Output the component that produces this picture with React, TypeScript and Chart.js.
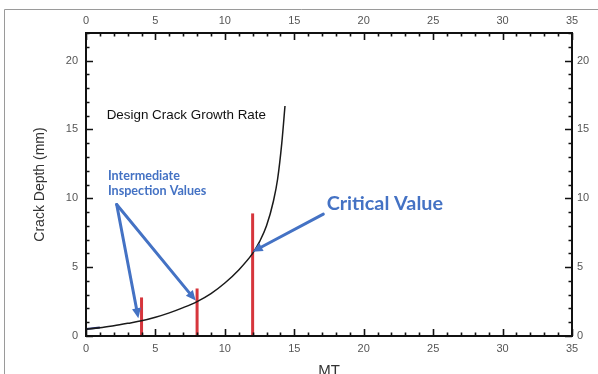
import React, { useEffect, useRef } from "react";
import { Chart, registerables } from "chart.js";

Chart.register(...registerables);

// ---- data ----
const curveX = [0, 1, 2, 3, 4, 5, 6, 7, 8, 9, 10, 11, 12, 12.5, 13, 13.5, 13.8, 14.1, 14.33];
const curveY = [0.5, 0.6, 0.75, 0.92, 1.1, 1.36, 1.68, 2.06, 2.5, 3.08, 3.85, 4.8, 6.0, 6.85, 8.0, 9.8, 11.4, 14.0, 16.7];
const stubX = [0, 1];
const stubY = [0.5, 0.62];
const inspectionX = [4, 8, 12];
const inspectionTop = [2.8, 3.45, 8.9];
const arrowFromX = [2.21, 2.21, 17.09];
const arrowFromY = [9.55, 9.55, 8.85];
const arrowToX = [3.77, 7.9, 12.0];
const arrowToY = [1.29, 2.57, 6.12];
const xTickLabels = [0, 5, 10, 15, 20, 25, 30, 35];
const yTickLabels = [0, 5, 10, 15, 20];
const X_MIN = 0, X_MAX = 35, Y_MIN = 0, Y_MAX = 22;
const curveLabel = "Design Crack Growth Rate";
const interLabel = ["Intermediate", "Inspection Values"];
const interLabelX = 1.58;
const interLabelY = [11.62, 10.53];
const criticalLabel = "Critical Value";
const criticalLabelPos = [17.33, 9.58];
const curveLabelPos = [1.49, 16.0];

const BLUE = "#4472c4";
const RED = "#d6353c";

const W = 598, H = 390;

const fixSize = (size: number) => (scale: any) => {
  if (scale.isHorizontal()) scale.height = size;
  else scale.width = size;
};
const fixTicks = (vals: number[]) => (scale: any) => {
  scale.ticks = vals.map((v) => ({ value: v }));
};

const overlayPlugin = {
  id: "overlay",
  afterDraw(chart: any) {
    const { ctx, chartArea } = chart;
    const xs = chart.scales.x;
    const ys = chart.scales.y;
    ctx.save();
    // outer frame of the picture
    ctx.strokeStyle = "#9a9a9a";
    ctx.lineWidth = 1;
    ctx.beginPath();
    ctx.moveTo(4.5, H + 10);
    ctx.lineTo(4.5, 9.5);
    ctx.lineTo(W + 10, 9.5);
    ctx.stroke();

    // plot frame
    const L = chartArea.left, R = chartArea.right, T = chartArea.top, B = chartArea.bottom;
    ctx.strokeStyle = "#111";
    ctx.lineWidth = 2;
    ctx.strokeRect(L, T, R - L, B - T);

    // inward ticks
    ctx.lineWidth = 1.6;
    ctx.beginPath();
    for (let v = X_MIN; v <= X_MAX; v++) {
      const len = v % 5 === 0 ? 7 : 3.5;
      const px = Math.round(xs.getPixelForValue(v)) + 0.5;
      ctx.moveTo(px, B);
      ctx.lineTo(px, B - len);
      ctx.moveTo(px, T);
      ctx.lineTo(px, T + len);
    }
    for (let v = Y_MIN; v <= Y_MAX; v++) {
      const len = v % 5 === 0 ? 7 : 3.5;
      const py = Math.round(ys.getPixelForValue(v)) + 0.5;
      ctx.moveTo(L, py);
      ctx.lineTo(L + len, py);
      ctx.moveTo(R, py);
      ctx.lineTo(R - len, py);
    }
    ctx.stroke();

    // arrows
    ctx.strokeStyle = BLUE;
    ctx.fillStyle = BLUE;
    for (let i = 0; i < arrowFromX.length; i++) {
      const x1 = xs.getPixelForValue(arrowFromX[i]);
      const y1 = ys.getPixelForValue(arrowFromY[i]);
      const x2 = xs.getPixelForValue(arrowToX[i]);
      const y2 = ys.getPixelForValue(arrowToY[i]);
      const ang = Math.atan2(y2 - y1, x2 - x1);
      const hl = 10, hw = 4.5;
      const bx = x2 - hl * Math.cos(ang);
      const by = y2 - hl * Math.sin(ang);
      ctx.lineWidth = 3;
      ctx.lineCap = "round";
      ctx.beginPath();
      ctx.moveTo(x1, y1);
      ctx.lineTo(bx, by);
      ctx.stroke();
      ctx.beginPath();
      ctx.moveTo(x2, y2);
      ctx.lineTo(bx + hw * Math.sin(ang), by - hw * Math.cos(ang));
      ctx.lineTo(bx - hw * Math.sin(ang), by + hw * Math.cos(ang));
      ctx.closePath();
      ctx.fill();
    }

    // texts
    ctx.textAlign = "left";
    ctx.textBaseline = "middle";
    ctx.fillStyle = "#111";
    ctx.font = "13.4px 'Liberation Sans', Arial, sans-serif";
    ctx.fillText(curveLabel, xs.getPixelForValue(curveLabelPos[0]), ys.getPixelForValue(curveLabelPos[1]));

    ctx.fillStyle = BLUE;
    ctx.font = "bold 12.6px Lato, 'Open Sans', sans-serif";
    interLabel.forEach((t, i) => {
      ctx.fillText(t, xs.getPixelForValue(interLabelX), ys.getPixelForValue(interLabelY[i]));
    });
    ctx.font = "bold 19.8px Lato, 'Open Sans', sans-serif";
    ctx.fillText(criticalLabel, xs.getPixelForValue(criticalLabelPos[0]), ys.getPixelForValue(criticalLabelPos[1]));
    ctx.restore();
  },
};

export default function App() {
  const ref = useRef<HTMLCanvasElement | null>(null);
  useEffect(() => {
    if (!ref.current) return;
    const tickFont = { family: "'Liberation Sans', Arial, sans-serif", size: 11 };
    const datasets: any[] = [
      {
        label: "curve",
        data: curveX.map((x, i) => ({ x, y: curveY[i] })),
        borderColor: "#1a1a1a",
        borderWidth: 1.5,
        pointRadius: 0,
        showLine: true,
        cubicInterpolationMode: "monotone",
        fill: false,
      },
      {
        label: "stub",
        data: stubX.map((x, i) => ({ x, y: stubY[i] })),
        borderColor: "#1f2a6b",
        borderWidth: 2,
        pointRadius: 0,
        showLine: true,
      },
      ...inspectionX.map((x, i) => ({
        label: "inspection " + x,
        data: [
          { x, y: 0 },
          { x, y: inspectionTop[i] },
        ],
        borderColor: RED,
        borderWidth: 3,
        pointRadius: 0,
        showLine: true,
      })),
    ];
    const chart = new Chart(ref.current, {
      type: "scatter",
      data: { datasets },
      plugins: [overlayPlugin],
      options: {
        animation: false,
        responsive: false,
        devicePixelRatio: 1,
        layout: { padding: 0 },
        plugins: { legend: { display: false }, tooltip: { enabled: false } },
        scales: {
          x: {
            type: "linear",
            position: "bottom",
            min: X_MIN,
            max: X_MAX,
            grid: { display: false, drawTicks: false },
            border: { display: false },
            ticks: { font: tickFont, color: "#555", padding: 6, maxRotation: 0 },
            afterBuildTicks: fixTicks(xTickLabels),
            afterFit: fixSize(54),
            title: {
              display: true,
              text: "MT",
              color: "#333",
              font: { family: "'Liberation Sans', Arial, sans-serif", size: 15 },
              padding: { top: 0, bottom: 10 },
            },
          },
          x2: {
            type: "linear",
            axis: "x",
            position: "top",
            min: X_MIN,
            max: X_MAX,
            grid: { display: false, drawTicks: false },
            border: { display: false },
            ticks: { font: tickFont, color: "#555", padding: 5, maxRotation: 0 },
            afterBuildTicks: fixTicks(xTickLabels),
            afterFit: fixSize(33),
          },
          y: {
            type: "linear",
            position: "left",
            min: Y_MIN,
            max: Y_MAX,
            grid: { display: false, drawTicks: false },
            border: { display: false },
            ticks: { font: tickFont, color: "#555", padding: 8 },
            afterBuildTicks: fixTicks(yTickLabels),
            afterFit: fixSize(86),
            title: {
              display: true,
              text: "Crack Depth (mm)",
              color: "#333",
              font: { family: "'Liberation Sans', Arial, sans-serif", size: 14 },
              padding: { top: 32, bottom: 0 },
            },
          },
          y2: {
            type: "linear",
            axis: "y",
            position: "right",
            min: Y_MIN,
            max: Y_MAX,
            grid: { display: false, drawTicks: false },
            border: { display: false },
            ticks: { font: tickFont, color: "#555", padding: 5 },
            afterBuildTicks: fixTicks(yTickLabels),
            afterFit: fixSize(26),
          },
        },
      } as any,
    });
    return () => chart.destroy();
  }, []);
  return (
    <div
      style={{
        position: "fixed",
        left: 0,
        top: 0,
        width: 598,
        height: 374,
        overflow: "hidden",
        background: "#fff",
      }}
    >
      <canvas ref={ref} width={W} height={H} style={{ width: W, height: H, display: "block" }} />
    </div>
  );
}
